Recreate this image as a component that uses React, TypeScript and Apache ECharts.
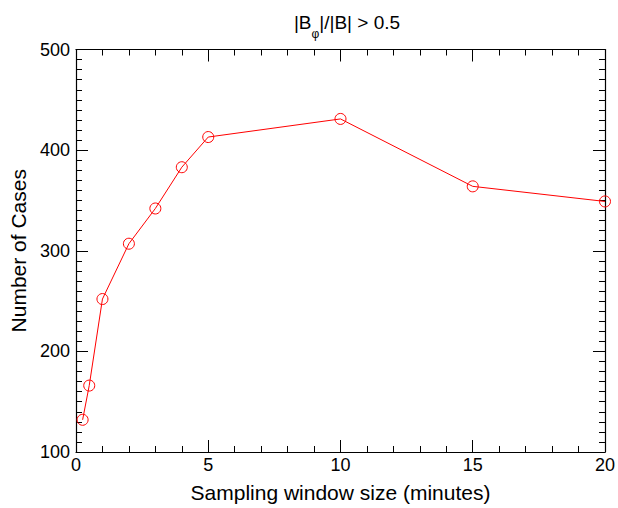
import React, { useEffect, useRef } from "react";
import * as echarts from "echarts";

const windowSizes = [0.25, 0.5, 1, 2, 3, 4, 5, 10, 15, 20];
const caseCounts = [132, 166, 252, 307, 342, 383, 413, 431, 364, 349];
const xTicks = [0, 5, 10, 15, 20];
const yTicks = [100, 200, 300, 400, 500];

const FONT = "Liberation Sans, Arial, Helvetica, sans-serif";

export default function App() {
  const ref = useRef<HTMLDivElement>(null);
  useEffect(() => {
    if (!ref.current) return;
    const chart = echarts.init(ref.current, null, { renderer: "svg" });
    const axisLine = { show: true, onZero: false, lineStyle: { color: "#000", width: 1.2 } };
    const commonX = {
      type: "value" as const,
      min: xTicks[0],
      max: xTicks[xTicks.length - 1],
      interval: 5,
      axisLine,
      axisTick: { show: true, inside: true, length: 12, lineStyle: { color: "#000", width: 1 } },
      minorTick: { show: true, splitNumber: 5, length: 6, lineStyle: { color: "#000", width: 1 } },
      splitLine: { show: false },
    };
    const commonY = {
      type: "value" as const,
      min: yTicks[0],
      max: yTicks[yTicks.length - 1],
      interval: 100,
      axisLine,
      axisTick: { show: true, inside: true, length: 12, lineStyle: { color: "#000", width: 1 } },
      minorTick: { show: true, splitNumber: 10, length: 6, lineStyle: { color: "#000", width: 1 } },
      splitLine: { show: false },
    };
    chart.setOption({
      animation: false,
      backgroundColor: "#fff",
      title: {
        text: "{a||B}{s|φ}{a||/|B| > 0.5}",
        left: 342,
        top: 8,
        textAlign: "center",
        textStyle: {
          fontWeight: "normal",
          rich: {
            a: { fontFamily: FONT, fontSize: 19, fontWeight: "normal", color: "#000", lineHeight: 24, verticalAlign: "top" },
            s: { fontFamily: FONT, fontSize: 12, fontWeight: "normal", color: "#000", lineHeight: 24, padding: [15, 0, 0, 0], verticalAlign: "top" },
          },
        },
      },
      grid: { left: 76, top: 49.5, width: 532, height: 404.5, containLabel: false },
      xAxis: [
        {
          ...commonX,
          position: "bottom",
          name: "Sampling window size (minutes)",
          nameLocation: "middle",
          nameGap: 30,
          nameTextStyle: { fontFamily: FONT, fontSize: 21, color: "#000" },
          axisLabel: { show: true, fontFamily: FONT, fontSize: 18, color: "#000", margin: 4 },
        },
        { ...commonX, position: "top", axisLabel: { show: false } },
      ],
      yAxis: [
        {
          ...commonY,
          position: "left",
          name: "Number of Cases",
          nameLocation: "middle",
          nameGap: 45,
          nameTextStyle: { fontFamily: FONT, fontSize: 21, color: "#000" },
          axisLabel: { show: true, fontFamily: FONT, fontSize: 18, color: "#000", margin: 6 },
        },
        { ...commonY, position: "right", axisLabel: { show: false } },
      ],
      series: [
        {
          type: "line",
          data: windowSizes.map((x, i) => [x, caseCounts[i]]),
          symbol: "circle",
          symbolSize: 11,
          lineStyle: { color: "#ff0000", width: 1 },
          itemStyle: { color: "transparent", borderColor: "#ff0000", borderWidth: 1 },
          clip: false,
        },
      ],
    });
    return () => chart.dispose();
  }, []);
  return (
    <div
      ref={ref}
      style={{ position: "fixed", left: 0, top: 0, width: 618, height: 508, background: "#fff" }}
    />
  );
}
